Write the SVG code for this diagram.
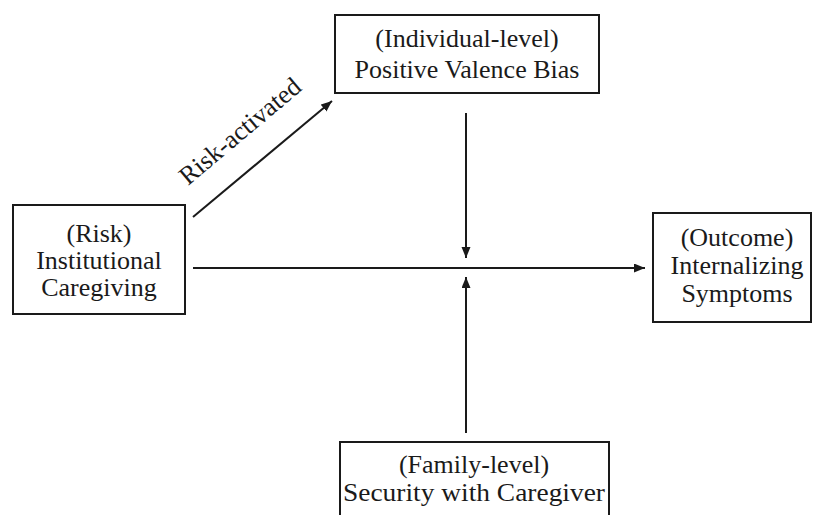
<svg xmlns="http://www.w3.org/2000/svg" width="814" height="515" viewBox="0 0 814 515">
<style>
.box{fill:#fff;stroke:#1a1a1a;stroke-width:2}
.c{stroke:#1a1a1a;stroke-width:2;fill:none}
</style>
<defs>
<marker id="ah" markerUnits="userSpaceOnUse" markerWidth="12" markerHeight="10" refX="11" refY="4.5" orient="auto">
<path d="M0,0 L11,4.5 L0,9 z" fill="#1a1a1a"/>
</marker>
</defs>
<rect width="814" height="515" fill="#fff"/>
<g id="connectors">
<line class="c" x1="193" y1="217" x2="332" y2="101" marker-end="url(#ah)"/>
<line class="c" x1="193" y1="268" x2="645" y2="268" marker-end="url(#ah)"/>
<line class="c" x1="466" y1="113" x2="466" y2="258" marker-end="url(#ah)"/>
<line class="c" x1="466" y1="433" x2="466" y2="277" marker-end="url(#ah)"/>
<text font-family="'Liberation Serif', 'Times New Roman', serif" font-size="26" fill="#1a1a1a" transform="translate(188,186) rotate(-40)">Risk-activated</text>
</g>
<g font-family="'Liberation Serif', 'Times New Roman', serif" font-size="26" fill="#1a1a1a" text-anchor="middle">
<g id="individual">
<rect class="box" x="335" y="15" width="264" height="78"/>
<text x="467" y="47">(Individual-level)</text>
<text x="467" y="78">Positive Valence Bias</text>
</g>
<g id="risk">
<rect class="box" x="13" y="205" width="172" height="109"/>
<text x="99" y="242">(Risk)</text>
<text x="99" y="269">Institutional</text>
<text x="99" y="296">Caregiving</text>
</g>
<g id="outcome">
<rect class="box" x="653" y="213" width="158" height="109"/>
<text x="737" y="246">(Outcome)</text>
<text x="737" y="274">Internalizing</text>
<text x="737" y="302">Symptoms</text>
</g>
<g id="family">
<rect class="box" x="340" y="442" width="269" height="90"/>
<text x="474" y="473">(Family-level)</text>
<text x="474" y="501" textLength="262" lengthAdjust="spacingAndGlyphs">Security with Caregiver</text>
</g>
</g>
</svg>
